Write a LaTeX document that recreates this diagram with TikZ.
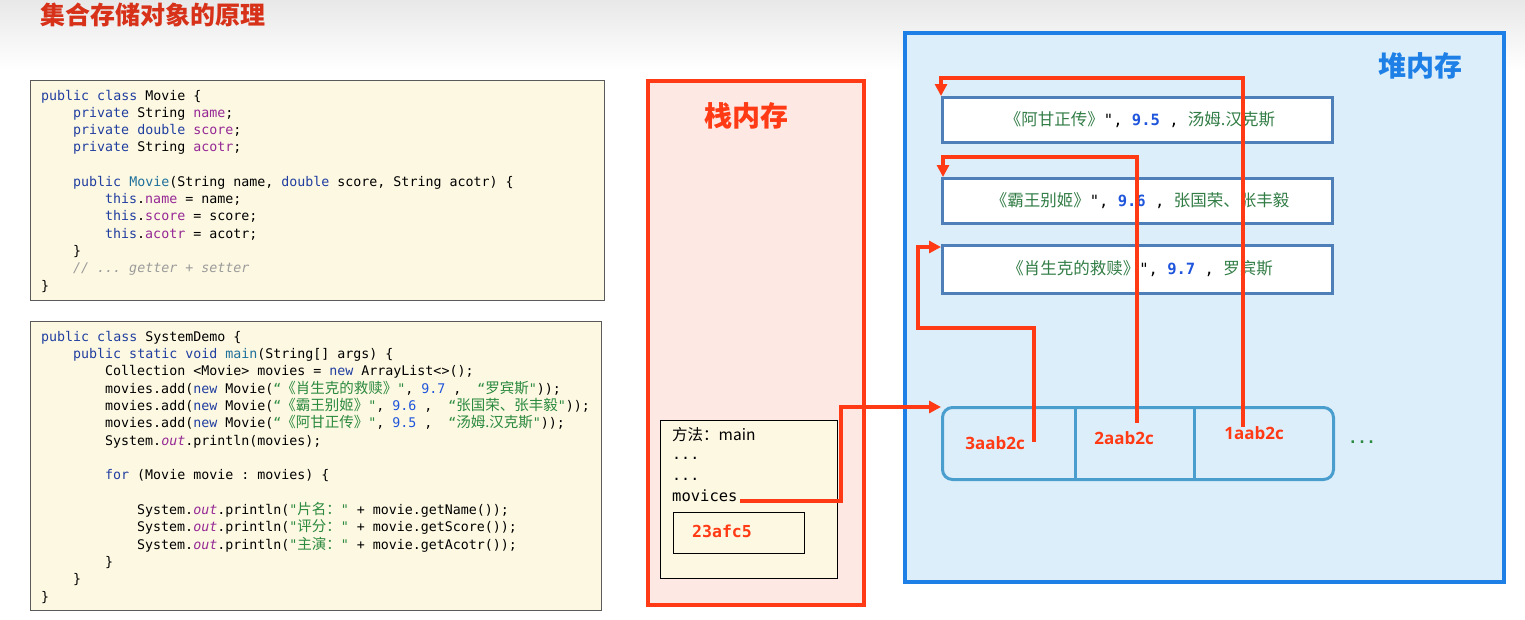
\documentclass[tikz,border=0pt]{standalone}
\usepackage{fontspec}
\setmainfont{Liberation Sans}
\setmonofont{DejaVu Sans Mono}
\newfontfamily\cjk{Noto Sans CJK SC}
\newfontfamily\addrfont{Open Sans}
\usetikzlibrary{arrows.meta}
\definecolor{codebg}{RGB}{253,248,226}
\definecolor{codeborder}{RGB}{90,90,90}
\definecolor{kwc}{RGB}{32,62,160}
\definecolor{tyc}{RGB}{30,112,155}
\definecolor{flc}{RGB}{150,40,150}
\definecolor{cmc}{RGB}{155,155,155}
\definecolor{stc}{RGB}{42,138,62}
\definecolor{nmc}{RGB}{30,85,220}
\definecolor{refred}{RGB}{255,58,20}
\definecolor{titlered}{RGB}{215,50,25}
\definecolor{stackbg}{RGB}{253,232,228}
\definecolor{heapbg}{RGB}{221,238,251}
\definecolor{heapblue}{RGB}{30,128,230}
\definecolor{objborder}{RGB}{78,127,184}
\definecolor{arrborder}{RGB}{74,158,206}
\definecolor{objgreen}{RGB}{50,125,70}
\newcommand\codefont{\fontsize{13.3}{17.3}\selectfont\ttfamily}
\newcommand\czh[1]{{\cjk\fontsize{14.5}{17.3}\selectfont #1}}
\newcommand\ckw[1]{\textcolor{kwc}{#1}}
\newcommand\cty[1]{\textcolor{tyc}{#1}}
\newcommand\cfl[1]{\textcolor{flc}{#1}}
\newcommand\ccm[1]{\textcolor{cmc}{\itshape #1}}
\newcommand\cst[1]{\textcolor{stc}{#1}}
\newcommand\cnm[1]{\textcolor{nmc}{#1}}
\newcommand\cout[1]{\textcolor{flc}{\itshape #1}}
\newcommand\ozh[1]{{\cjk\fontsize{16.5}{20}\selectfont\color{objgreen}#1}}
\newcommand\omo[1]{{\ttfamily\fontsize{15.5}{20}\selectfont #1}}
\newcommand\onm[1]{{\ttfamily\bfseries\fontsize{15.5}{20}\selectfont\color{nmc}#1}}
\tikzset{
  codebox/.style={draw=codeborder, fill=codebg, line width=1pt, anchor=north west, inner sep=0pt},
  codeln/.style={anchor=base west, inner sep=0pt, font=\codefont},
  stackbox/.style={draw=refred, fill=stackbg, line width=3.5pt, anchor=north west, inner sep=0pt},
  heapbox/.style={draw=heapblue, fill=heapbg, line width=4pt, anchor=north west, inner sep=0pt},
  objbox/.style={draw=objborder, fill=white, line width=3pt, anchor=north west, inner sep=0pt, minimum width=390pt},
  arrbox/.style={draw=arrborder, fill=heapbg, line width=3pt, anchor=north west, inner sep=0pt, rounded corners=10pt},
  framebox/.style={draw=black, fill=codebg, line width=1pt, anchor=north west, inner sep=0pt},
  memtitle/.style={font=\cjk\bfseries\fontsize{28}{30}\selectfont, inner sep=0pt},
  addr/.style={font=\addrfont\bfseries\fontsize{17}{20}\selectfont, text=refred, inner sep=0pt},
  stackln/.style={anchor=base west, inner sep=0pt},
  refline/.style={draw=refred, line width=3.6pt, miter limit=10, -{Triangle[length=12pt,width=12pt]}},
}
\begin{document}
\begin{tikzpicture}[x=1pt,y=-1pt]
\useasboundingbox (0,0) rectangle (1525,619);
\shade[top color=black!9, bottom color=white] (0,0) rectangle (1525,70);
\node[anchor=west, inner sep=0pt, text=titlered, font=\cjk\bfseries\fontsize{25}{28}\selectfont] (title) at (40,15) {集合存储对象的原理};

% ---------- code box 1 ----------
\node[codebox, minimum width=574pt, minimum height=220pt] (code1) at (30,80) {};
\node[codeln] (a0) at (41,100.0) {\ckw{public class} Movie \{};
\node[codeln] (a1) at (73,117.3) {\ckw{private} String \cfl{name};};
\node[codeln] (a2) at (73,134.5) {\ckw{private double} \cfl{score};};
\node[codeln] (a3) at (73,151.8) {\ckw{private} String \cfl{acotr};};
\node[codeln] (a5) at (73,186.4) {\ckw{public} \cty{Movie}(String name, \ckw{double} score, String acotr) \{};
\node[codeln] (a6) at (105,203.6) {\ckw{this}.\cfl{name} = name;};
\node[codeln] (a7) at (105,220.9) {\ckw{this}.\cfl{score} = score;};
\node[codeln] (a8) at (105,238.2) {\ckw{this}.\cfl{acotr} = acotr;};
\node[codeln] (a9) at (73,255.4) {\}};
\node[codeln] (a10) at (73,272.7) {\ccm{// ... getter + setter}};
\node[codeln] (a11) at (41,290.0) {\}};

% ---------- code box 2 ----------
\node[codebox, minimum width=571pt, minimum height=289pt] (code2) at (30,321) {};
\node[codeln] (b0) at (41,341.0) {\ckw{public class} SystemDemo \{};
\node[codeln] (b1) at (73,358.3) {\ckw{public static void} \cty{main}(String[] args) \{};
\node[codeln] (b2) at (105,375.7) {Collection <Movie> movies = \ckw{new} ArrayList<>();};
\node[codeln] (b3) at (105,393.0) {movies.add(\ckw{new} Movie(\cst{“\czh{《肖生克的救赎》}"}, \cnm{9.7} ,~~\cst{“\czh{罗宾斯}"}));};
\node[codeln] (b4) at (105,410.3) {movies.add(\ckw{new} Movie(\cst{“\czh{《霸王别姬》}"}, \cnm{9.6} ,~~\cst{“\czh{张国荣、张丰毅}"}));};
\node[codeln] (b5) at (105,427.7) {movies.add(\ckw{new} Movie(\cst{“\czh{《阿甘正传》}"}, \cnm{9.5} ,~~\cst{“\czh{汤姆.汉克斯}"}));};
\node[codeln] (b6) at (105,445.0) {System.\cout{out}.println(movies);};
\node[codeln] (b8) at (105,479.6) {\ckw{for} (Movie movie : movies) \{};
\node[codeln] (b10) at (137,514.3) {System.\cout{out}.println(\cst{"\czh{片名：}"}~+ movie.getName());};
\node[codeln] (b11) at (137,531.6) {System.\cout{out}.println(\cst{"\czh{评分：}"}~+ movie.getScore());};
\node[codeln] (b12) at (137,549.0) {System.\cout{out}.println(\cst{"\czh{主演：}"}~+ movie.getAcotr());};
\node[codeln] (b13) at (105,566.3) {\}};
\node[codeln] (b14) at (73,583.6) {\}};
\node[codeln] (b15) at (41,601.0) {\}};

% ---------- stack ----------
\node[stackbox, minimum width=216pt, minimum height=524pt] (stack) at (646,79) {};
\node[memtitle, text=refred] (stackt) at (746,116) {栈内存};
\node[framebox, minimum width=177pt, minimum height=158pt] (frm) at (660,420) {};
\node[stackln, font=\cjk\fontsize{15.5}{18}\selectfont] (meth) at (672,440) {方法：main};
\node[stackln, font=\ttfamily\fontsize{15}{18}\selectfont] (dots1) at (672,459) {...};
\node[stackln, font=\ttfamily\fontsize{15}{18}\selectfont] (dots2) at (672,480) {...};
\node[stackln, font=\ttfamily\fontsize{15.5}{18}\selectfont] (mov) at (672,501) {movices};
\node[framebox, minimum width=131pt, minimum height=41pt] (val) at (673,512) {};
\node[inner sep=0pt, text=refred, font=\ttfamily\bfseries\fontsize{16.5}{18}\selectfont] (valt) at (722,531) {23afc5};

% ---------- heap ----------
\node[heapbox, minimum width=599pt, minimum height=549pt] (heap) at (903,31) {};
\node[memtitle, text=heapblue] (heapt) at (1420,66) {堆内存};
\node[objbox, minimum height=45pt] (obj1) at (941,96) {};
\node[inner sep=0pt] (obj1t) at (1140,120) {\ozh{《阿甘正传》}\omo{",~}\onm{9.5}\omo{~,~}\ozh{汤姆.汉克斯}};
\node[objbox, minimum height=45pt] (obj2) at (941,177) {};
\node[inner sep=0pt] (obj2t) at (1140,201) {\ozh{《霸王别姬》}\omo{",~}\onm{9.6}\omo{~,~}\ozh{张国荣、张丰毅}};
\node[objbox, minimum height=48pt] (obj3) at (941,244) {};
\node[inner sep=0pt] (obj3t) at (1140,269) {\ozh{《肖生克的救赎》}\omo{",~}\onm{9.7}\omo{~,~}\ozh{罗宾斯}};

\node[arrbox, minimum width=391pt, minimum height=72pt] (arr) at (941,406) {};
\draw[draw=arrborder, line width=3pt] (1075,406) -- (1075,478);
\draw[draw=arrborder, line width=3pt] (1194,406) -- (1194,478);
\node[addr] (l3) at (995,443) {3aab2c};
\node[addr] (l2) at (1124,438) {2aab2c};
\node[addr] (l1) at (1254,433) {1aab2c};
\node[inner sep=0pt, text=stc, font=\ttfamily\bfseries\fontsize{15}{18}\selectfont] (more) at (1362,442) {...};

\coordinate (p3) at (1034,442);
\coordinate (p2) at (1137,423);
\coordinate (p1) at (1243,427);

% ---------- references ----------
\draw[refline] ([xshift=2pt]mov.base east) -- ++(101,0) |- ([yshift=-1pt]arr.north west);
\draw[refline] (p3) |- (918,328) |- ([yshift=-3pt]obj3.north west);
\draw[refline] (p2) |- ([xshift=2pt,yshift=20pt]obj2.north west) -- ([xshift=2pt]obj2.north west);
\draw[refline] (p1) |- ([yshift=18pt]obj1.north west) -- (obj1.north west);
\end{tikzpicture}
\end{document}
